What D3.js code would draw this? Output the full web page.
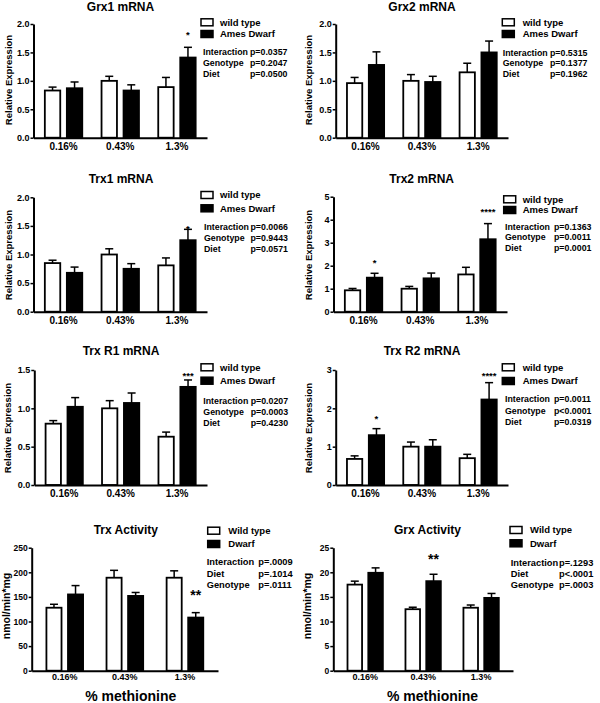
<!DOCTYPE html>
<html>
<head>
<meta charset="utf-8">
<script src="https://cdn.jsdelivr.net/npm/d3@7"></script>
<style>
  html, body { margin: 0; padding: 0; background: #fff; }
  svg { display: block; font-family: "Liberation Sans", Arial, sans-serif; font-weight: bold; }
</style>
</head>
<body>
<svg id="chart" width="600" height="703"></svg>
<script>
// ---------------- DATA ----------------
const categories = ["0.16%", "0.43%", "1.3%"];
const seriesKeys = ["wt", "dw"];

const grx1WT = [0.83, 1.00, 0.89], grx1WTErr = [0.06, 0.08, 0.17];
const grx1DW = [0.87, 0.83, 1.41], grx1DWErr = [0.11, 0.10, 0.18];

const grx2WT = [0.96, 1.00, 1.15], grx2WTErr = [0.10, 0.11, 0.16];
const grx2DW = [1.28, 0.98, 1.50], grx2DWErr = [0.23, 0.10, 0.20];

const trx1WT = [0.85, 1.00, 0.81], trx1WTErr = [0.05, 0.10, 0.13];
const trx1DW = [0.68, 0.75, 1.25], trx1DWErr = [0.10, 0.09, 0.19];

const trx2WT = [0.93, 1.00, 1.62], trx2WTErr = [0.08, 0.10, 0.31];
const trx2DW = [1.48, 1.45, 3.15], trx2DWErr = [0.19, 0.23, 0.68];

const trxr1WT = [0.80, 1.00, 0.63], trxr1WTErr = [0.04, 0.10, 0.06];
const trxr1DW = [1.02, 1.07, 1.28], trxr1DWErr = [0.12, 0.13, 0.09];

const trxr2WT = [0.68, 1.00, 0.70], trxr2WTErr = [0.08, 0.12, 0.10];
const trxr2DW = [1.30, 1.00, 2.23], trxr2DWErr = [0.17, 0.18, 0.44];

const trxActWT = [128, 189, 189], trxActWTErr = [7, 15, 14];
const trxActDW = [155, 152, 108], trxActDWErr = [18, 7, 10];

const grxActWT = [17.5, 12.5, 12.8], grxActWTErr = [0.7, 0.4, 0.55];
const grxActDW = [19.9, 18.2, 14.8], grxActDWErr = [1.0, 1.4, 0.9];

const ticks2 = [0, 0.5, 1.0, 1.5, 2.0];
const ticks15 = [0, 0.5, 1.0, 1.5];
const ticks5 = [0, 1, 2, 3, 4, 5];
const ticks3 = [0, 1, 2, 3];
const ticks250 = [0, 50, 100, 150, 200, 250];
const ticks25 = [0, 5, 10, 15, 20, 25];

const legendMRNA = ["wild type", "Ames Dwarf"];
const legendAct = ["Wild type", "Dwarf"];

const statsGrx1 = [["Interaction", "p=0.0357"], ["Genotype", "p=0.2047"], ["Diet", "p=0.0500"]];
const statsGrx2 = [["Interaction", "p=0.5315"], ["Genotype", "p=0.1377"], ["Diet", "p=0.1962"]];
const statsTrx1 = [["Interaction", "p=0.0066"], ["Genotype", "p=0.9443"], ["Diet", "p=0.0571"]];
const statsTrx2 = [["Interaction", "p=0.1363"], ["Genotype", "p=0.0011"], ["Diet", "p=0.0001"]];
const statsTrxR1 = [["Interaction", "p=0.0207"], ["Genotype", "p=0.0003"], ["Diet", "p=0.4230"]];
const statsTrxR2 = [["Interaction", "p=0.0011"], ["Genotype", "p<0.0001"], ["Diet", "p=0.0319"]];
const statsTrxAct = [["Interaction", "p=.0009"], ["Diet", "p=.1014"], ["Genotype", "p=.0111"]];
const statsGrxAct = [["Interaction", "p=.1293"], ["Diet", "p<.0001"], ["Genotype", "p=.0003"]];

// significance marks: [category index, series, label, value level]
const sigGrx1 = [[2, "dw", "*", 1.84]];
const sigGrx2 = [];
const sigTrx1 = [[2, "dw", "*", 1.49]];
const sigTrx2 = [[0, "dw", "*", 2.2], [2, "dw", "****", 4.42]];
const sigTrxR1 = [[2, "dw", "***", 1.457]];
const sigTrxR2 = [[0, "dw", "*", 1.78], [2, "dw", "****", 2.91]];
const sigTrxAct = [[2, "dw", "**", 158.5]];
const sigGrxAct = [[1, "dw", "**", 23.2]];

// ---------------- LAYOUT ----------------
const svg = d3.select("#chart");

const styleTop = { pi: 0.34, po: 0.2, tickFont: 9, catFont: 10, catPad: 5.2, legFont: 9.5, statFont: 8.8, ylabFont: 9.5, starFont: 9.5, titleFont: 12 };
const styleBot = { pi: 0.39, po: 0.245, tickFont: 8.5, catFont: 9, catPad: 3, legFont: 9.5, statFont: 9.3, ylabFont: 10.5, starFont: 14, titleFont: 12 };

const panels = [
  { st: styleTop, x0: 33.5, x1: 207, yTop: 24, y0: 137.7, domain: [0, 2], ticks: ticks2, fmt: ".1f",
    wt: grx1WT, wtErr: grx1WTErr, dw: grx1DW, dwErr: grx1DWErr, title: "Grx1 mRNA", tx: 120.5, ty: 10.7,
    ylab: "Relative Expression", ylx: 9, yly: 80, leg: legendMRNA, boxX: 201, rows: [22.3, 34], legTX: 220,
    stats: statsGrx1, sx: 203, px: 250, sy: [52, 63, 74], sig: sigGrx1 },
  { st: styleTop, x0: 335.7, x1: 508, yTop: 24, y0: 137.7, domain: [0, 2], ticks: ticks2, fmt: ".1f",
    wt: grx2WT, wtErr: grx2WTErr, dw: grx2DW, dwErr: grx2DWErr, title: "Grx2 mRNA", tx: 422, ty: 10.7,
    ylab: "Relative Expression", ylx: 309, yly: 80, leg: legendMRNA, boxX: 502.3, rows: [22.3, 34], legTX: 522.7,
    stats: statsGrx2, sx: 502.7, px: 550, sy: [52.7, 63.3, 74], sig: sigGrx2 },
  { st: styleTop, x0: 33.5, x1: 207, yTop: 197.3, y0: 311.7, domain: [0, 2], ticks: ticks2, fmt: ".1f",
    wt: trx1WT, wtErr: trx1WTErr, dw: trx1DW, dwErr: trx1DWErr, title: "Trx1 mRNA", tx: 121, ty: 182.5,
    ylab: "Relative Expression", ylx: 9, yly: 255, leg: legendMRNA, boxX: 201, rows: [195, 208.3], legTX: 220,
    stats: statsTrx1, sx: 204, px: 250.5, sy: [227.3, 237.7, 249], sig: sigTrx1 },
  { st: styleTop, x0: 333.5, x1: 507, yTop: 196.7, y0: 311.7, domain: [0, 5], ticks: ticks5, fmt: "d",
    wt: trx2WT, wtErr: trx2WTErr, dw: trx2DW, dwErr: trx2DWErr, title: "Trx2 mRNA", tx: 421.7, ty: 182.5,
    ylab: "Relative Expression", ylx: 309, yly: 255, leg: legendMRNA, boxX: 503.7, rows: [199.3, 210], legTX: 522.7,
    stats: statsTrx2, sx: 505, px: 554, sy: [226.7, 237.3, 247.7], sig: sigTrx2 },
  { st: styleTop, x0: 34.3, x1: 207, yTop: 370, y0: 485, domain: [0, 1.5], ticks: ticks15, fmt: ".1f",
    wt: trxr1WT, wtErr: trxr1WTErr, dw: trxr1DW, dwErr: trxr1DWErr, title: "Trx R1 mRNA", tx: 121, ty: 355,
    ylab: "Relative Expression", ylx: 8, yly: 428, leg: legendMRNA, boxX: 201, rows: [367.3, 380.7], legTX: 220,
    stats: statsTrxR1, sx: 203.3, px: 250.7, sy: [401, 412, 422.7], sig: sigTrxR1 },
  { st: styleTop, x0: 335.7, x1: 508, yTop: 370, y0: 485, domain: [0, 3], ticks: ticks3, fmt: "d",
    wt: trxr2WT, wtErr: trxr2WTErr, dw: trxr2DW, dwErr: trxr2DWErr, title: "Trx R2 mRNA", tx: 422, ty: 355,
    ylab: "Relative Expression", ylx: 309, yly: 428, leg: legendMRNA, boxX: 502.3, rows: [367.3, 381], legTX: 522.7,
    stats: statsTrxR2, sx: 505, px: 554, sy: [399.3, 411, 421.7], sig: sigTrxR2 },
  { st: styleBot, x0: 31.7, x1: 218, yTop: 547.7, y0: 670.7, domain: [0, 250], ticks: ticks250, fmt: "d",
    wt: trxActWT, wtErr: trxActWTErr, dw: trxActDW, dwErr: trxActDWErr, title: "Trx Activity", tx: 125.8, ty: 534,
    ylab: "nmol/min*mg", ylx: 6, yly: 606, leg: legendAct, boxX: 207.7, rows: [530.7, 544], legTX: 228.3,
    stats: statsTrxAct, sx: 206.7, px: 258.3, sy: [561.7, 573.3, 584.3], sig: sigTrxAct,
    xlab: "% methionine", xlx: 130.8, xly: 701 },
  { st: styleBot, x0: 333.3, x1: 513, yTop: 547.7, y0: 670.7, domain: [0, 25], ticks: ticks25, fmt: "d",
    wt: grxActWT, wtErr: grxActWTErr, dw: grxActDW, dwErr: grxActDWErr, title: "Grx Activity", tx: 427.5, ty: 534,
    ylab: "nmol/min*mg", ylx: 307.5, yly: 606, leg: legendAct, boxX: 510, rows: [530, 543.3], legTX: 530,
    stats: statsGrxAct, sx: 510.7, px: 559, sy: [562.7, 573.3, 585], sig: sigGrxAct,
    xlab: "% methionine", xlx: 432.5, xly: 701 }
];

function drawPanel(p) {
  const st = p.st;
  const g = svg.append("g");
  const y = d3.scaleLinear().domain(p.domain).range([p.y0, p.yTop]);
  const x = d3.scaleBand().domain(categories).range([p.x0, p.x1]).paddingInner(st.pi).paddingOuter(st.po);
  const xs = d3.scaleBand().domain(seriesKeys).range([0, x.bandwidth()]).paddingInner(0.3).paddingOuter(0);

  const rows = [];
  categories.forEach((c, i) => {
    rows.push({ c, s: "wt", v: p.wt[i], e: p.wtErr[i] });
    rows.push({ c, s: "dw", v: p.dw[i], e: p.dwErr[i] });
  });

  // error bars (upper only)
  const eb = g.append("g").attr("stroke", "#000").attr("stroke-width", 1.5);
  rows.forEach(r => {
    const cx = x(r.c) + xs(r.s) + xs.bandwidth() / 2;
    eb.append("line").attr("x1", cx).attr("x2", cx).attr("y1", y(r.v)).attr("y2", y(r.v + r.e));
    eb.append("line").attr("x1", cx - 4).attr("x2", cx + 4).attr("y1", y(r.v + r.e)).attr("y2", y(r.v + r.e));
  });

  // bars
  g.append("g").selectAll("rect").data(rows).join("rect")
    .attr("x", r => x(r.c) + xs(r.s))
    .attr("y", r => y(r.v))
    .attr("width", xs.bandwidth())
    .attr("height", r => y(0) - y(r.v))
    .attr("fill", r => r.s === "wt" ? "#fff" : "#000")
    .attr("stroke", "#000")
    .attr("stroke-width", 1.8);

  // axes
  const fmt = d3.format(p.fmt);
  const ya = g.append("g").attr("transform", `translate(${p.x0},0)`)
    .call(d3.axisLeft(y).tickValues(p.ticks).tickFormat(fmt).tickSize(3).tickSizeOuter(0).tickPadding(1));
  ya.select(".domain").attr("stroke-width", 2);
  ya.selectAll(".tick line").attr("stroke-width", 1.5);
  ya.selectAll("text").attr("font-size", st.tickFont).attr("font-weight", "bold").attr("font-family", "Liberation Sans, Arial, sans-serif").attr("fill", "#000");

  const xa = g.append("g").attr("transform", `translate(0,${p.y0})`)
    .call(d3.axisBottom(x).tickSize(0).tickSizeOuter(0).tickPadding(st.catPad));
  xa.select(".domain").attr("stroke-width", 2);
  xa.selectAll("text").attr("font-size", st.catFont).attr("font-weight", "bold").attr("font-family", "Liberation Sans, Arial, sans-serif").attr("fill", "#000");

  // title
  g.append("text").attr("x", p.tx).attr("y", p.ty).attr("text-anchor", "middle")
    .attr("font-size", st.titleFont).text(p.title);

  // y label
  g.append("text").attr("transform", `translate(${p.ylx},${p.yly}) rotate(-90)`)
    .attr("text-anchor", "middle").attr("dy", "0.35em").attr("font-size", st.ylabFont).text(p.ylab);

  // x label
  if (p.xlab) {
    g.append("text").attr("x", p.xlx).attr("y", p.xly).attr("text-anchor", "middle")
      .attr("font-size", 14).text(p.xlab);
  }

  // legend
  p.leg.forEach((lab, i) => {
    g.append("rect").attr("x", p.boxX).attr("y", p.rows[i] - 3.5).attr("width", 12).attr("height", 7)
      .attr("fill", i === 0 ? "#fff" : "#000").attr("stroke", "#000").attr("stroke-width", 1.5);
    g.append("text").attr("x", p.legTX).attr("y", p.rows[i]).attr("dy", "0.35em")
      .attr("font-size", st.legFont).text(lab);
  });

  // stats
  p.stats.forEach((s, i) => {
    g.append("text").attr("x", p.sx).attr("y", p.sy[i]).attr("dy", "0.35em").attr("font-size", st.statFont).text(s[0]);
    g.append("text").attr("x", p.px).attr("y", p.sy[i]).attr("dy", "0.35em").attr("font-size", st.statFont).text(s[1]);
  });

  // significance
  p.sig.forEach(s => {
    const cx = x(categories[s[0]]) + xs(s[1]) + xs.bandwidth() / 2;
    g.append("text").attr("x", cx).attr("y", y(s[3]) + st.starFont * 0.55)
      .attr("text-anchor", "middle").attr("font-size", st.starFont).text(s[2]);
  });
}

panels.forEach(drawPanel);
</script>
</body>
</html>
